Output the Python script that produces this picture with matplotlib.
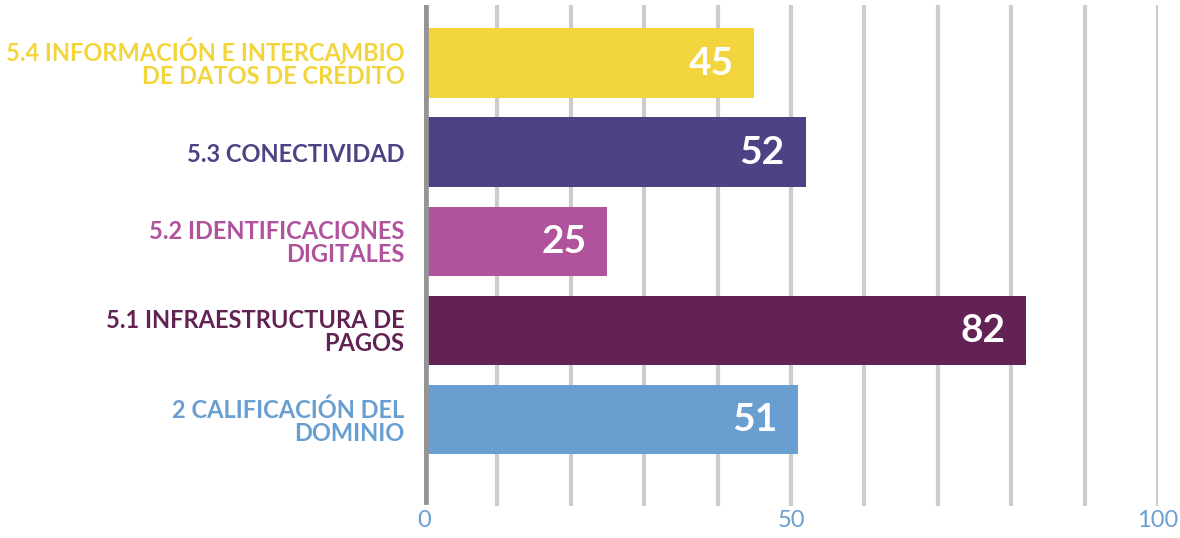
import matplotlib.pyplot as plt

categories = ["2 CALIFICACIÓN DEL\nDOMINIO",
              "5.1 INFRAESTRUCTURA DE\nPAGOS",
              "5.2 IDENTIFICACIONES\nDIGITALES",
              "5.3 CONECTIVIDAD",
              "5.4 INFORMACIÓN E INTERCAMBIO\nDE DATOS DE CRÉDITO"]
values = [51, 82, 25, 52, 45]
colors = ["#689fd0", "#632254", "#b0539c", "#4d4384", "#f2d53c"]
xticks = [0, 50, 100]

fig = plt.figure(figsize=(11.8, 5.38), dpi=100)
ax = fig.add_axes([0.3593, 0.0595, 0.6221, 0.931])

pos = list(range(len(values)))
ax.barh(pos, values, height=0.78, color=colors, zorder=3)

# grid lines every 10
for g in range(10, 101, 10):
    ax.axvline(g, color="#cccccc", lw=3, zorder=1)
ax.axvline(0, ymin=0.012, ymax=0.994, color="#949494", lw=7, zorder=4)

for p, v in zip(pos, values):
    ax.annotate(str(v), (v, p), xytext=(-15, 0), textcoords="offset points",
                ha="right", va="center", color="white", fontsize=28,
                fontweight="bold", family="Lato", zorder=5)

ax.set_xlim(0, 100)
ax.set_ylim(-0.97, 4.65)
ax.set_xticks(xticks)
ax.set_xticklabels([str(t) for t in xticks], color="#689fd0", fontsize=17,
                   family="Lato")
ax.set_yticks(pos)
ax.set_yticklabels(categories, fontsize=17, fontweight="bold", family="Lato",
                   linespacing=1.0, ha="right")
for lab, c in zip(ax.get_yticklabels(), colors):
    lab.set_color(c)
ax.tick_params(axis="both", length=0)
ax.tick_params(axis="y", pad=14)
ax.tick_params(axis="x", pad=3)
for s in ax.spines.values():
    s.set_visible(False)

fig.savefig("out.png", dpi=100)
